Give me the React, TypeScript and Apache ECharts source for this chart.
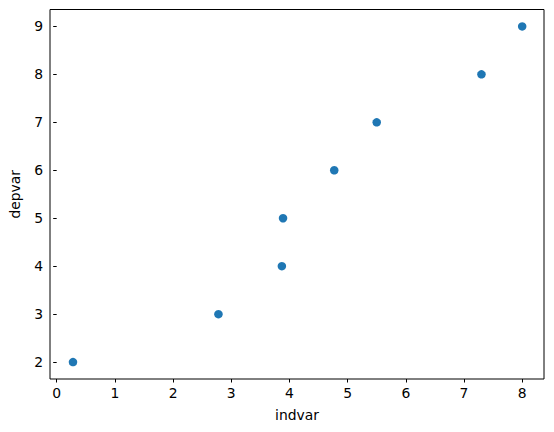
import React, { useEffect, useRef } from "react";
import * as echarts from "echarts";

const indvar = [0.28, 2.78, 3.87, 3.89, 4.77, 5.5, 7.3, 8.0];
const depvar = [2, 3, 4, 5, 6, 7, 8, 9];
const xTicks = [0, 1, 2, 3, 4, 5, 6, 7, 8];
const yTicks = [2, 3, 4, 5, 6, 7, 8, 9];

export default function App() {
  const ref = useRef<HTMLDivElement>(null);
  useEffect(() => {
    document.body.style.margin = "0";
    const chart = echarts.init(ref.current!, null, { renderer: "svg" });
    const font = "DejaVu Sans";
    chart.setOption({
      animation: false,
      backgroundColor: "#ffffff",
      grid: {
        left: 48.5,
        top: 9.5,
        width: 495.5,
        height: 369.5,
        show: true,
        borderColor: "#000000",
        borderWidth: 1,
        backgroundColor: "transparent",
      },
      xAxis: {
        type: "value",
        min: -0.115,
        max: 8.375,
        name: "indvar",
        nameLocation: "middle",
        nameGap: 29,
        nameTextStyle: { color: "#000", fontSize: 13.9, fontFamily: font },
        axisLine: { show: false },
        splitLine: { show: false },
        axisTick: {
          show: true,
          inside: false,
          length: 3.5,
          lineStyle: { color: "#000", width: 1 },
          customValues: xTicks,
        },
        axisLabel: {
          color: "#000",
          fontSize: 13.9,
          fontFamily: font,
          margin: 7,
          customValues: xTicks,
        },
      },
      yAxis: {
        type: "value",
        min: 1.648,
        max: 9.352,
        name: "depvar",
        nameLocation: "middle",
        nameGap: 28,
        nameTextStyle: { color: "#000", fontSize: 13.9, fontFamily: font },
        axisLine: { show: false },
        splitLine: { show: false },
        axisTick: {
          show: true,
          inside: false,
          length: 3.5,
          lineStyle: { color: "#000", width: 1 },
          customValues: yTicks,
        },
        axisLabel: {
          color: "#000",
          fontSize: 13.9,
          fontFamily: font,
          margin: 7,
          customValues: yTicks,
        },
      },
      series: [
        {
          type: "scatter",
          data: indvar.map((x, i) => [x, depvar[i]]),
          symbol: "circle",
          symbolSize: 8.5,
          itemStyle: { color: "#1f77b4", opacity: 1 },
        },
      ],
    });
    return () => chart.dispose();
  }, []);
  return <div ref={ref} style={{ width: 554, height: 432 }} />;
}
